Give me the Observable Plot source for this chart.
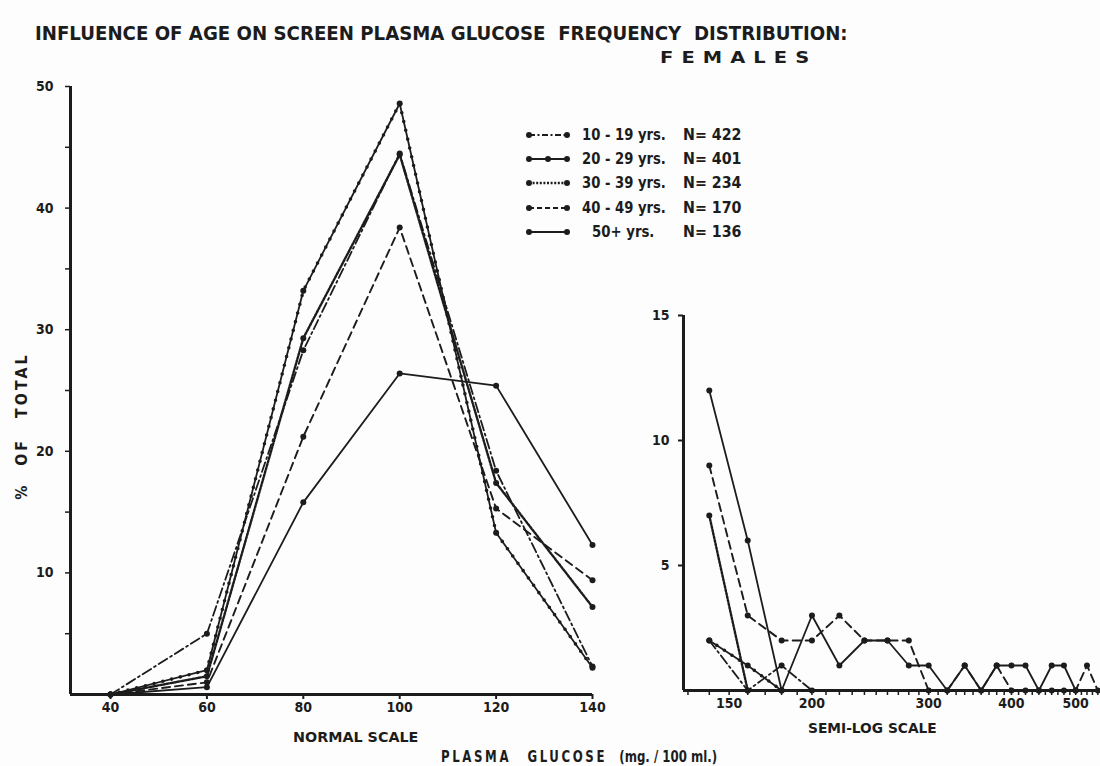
<!DOCTYPE html>
<html><head><meta charset="utf-8">
<script src="https://cdn.jsdelivr.net/npm/d3@7"></script>
<script src="https://cdn.jsdelivr.net/npm/@observablehq/plot@0.6"></script>
<style>
html,body{margin:0;padding:0;background:#fdfdfd;}
#wrap{position:relative;width:1100px;height:766px;overflow:hidden;background:#fdfdfd;}
.t{position:absolute;white-space:nowrap;font-family:"DejaVu Sans Condensed","Liberation Sans Narrow","DejaVu Sans",sans-serif;font-weight:bold;color:#1c1c1c;line-height:1;transform-origin:0 50%;}
#wrap svg.plotsvg{position:absolute;top:0;}
</style></head><body><div id="wrap"></div>
<script>
// ---------- data ----------
const ageGroups = ["10 - 19 yrs.", "20 - 29 yrs.", "30 - 39 yrs.", "40 - 49 yrs.", "50+ yrs."];
const sampleSizes = ["N= 422", "N= 401", "N= 234", "N= 170", "N= 136"];

// normal scale panel (plasma glucose mg/100 ml, % of total)
const normalX = [40, 60, 80, 100, 120, 140];
const normal_10_19 = [0, 5.0, 28.3, 44.5, 18.4, 2.3];
const normal_20_29 = [0, 2.0, 33.2, 48.6, 13.3, 2.2];
const normal_30_39 = [0, 1.5, 29.3, 44.4, 17.4, 7.2];
const normal_40_49 = [0, 1.0, 21.2, 38.4, 15.3, 9.4];
const normal_50_up = [0, 0.6, 15.8, 26.4, 25.4, 12.3];

// semi-log panel
const logX = [140,160,180,200,220,240,260,280,300,320,340,360,380,400,420,440,460,480,500,520,540];
const log_10_19 = [2, 0, 1, 0];
const log_20_29 = [2, 1, 0];
const log_30_39 = [7, 0];
const log_40_49 = [9,3,2,2,3,2,2,2,0,0,1,0,1,0,0,0,0,0,0,1,0];
const log_50_up = [12,6,0,3,1,2,2,1,1,0,1,0,1,1,1,0,1,1,0];

// ticks
const normalXTicks = [40, 60, 80, 100, 120, 140];
const normalYTicks = [10, 20, 30, 40, 50];
const normalYMinor = [5, 10, 15, 20, 25, 30, 35, 40, 45, 50];
const logXTicks = [150, 200, 300, 400, 500];
const logXMinor = [130,140,150,160,170,180,190,200,210,220,230,240,250,260,270,280,290,300,310,320,330,340,350,360,370,380,390,400,410,420,430,440,450,460,470,480,490,500,510,520,530,540];
const logYTicks = [5, 10, 15];

// ---------- helpers ----------
const FONT = '"DejaVu Sans Condensed","Liberation Sans Narrow","DejaVu Sans",sans-serif';
const ink = "#1c1c1c";
const normalSeries = [normal_10_19, normal_20_29, normal_30_39, normal_40_49, normal_50_up];
const logSeries = [log_10_19, log_20_29, log_30_39, log_40_49, log_50_up];
const normalRows = normalSeries.flatMap((s, i) => s.map((v, j) => ({group: ageGroups[i], x: normalX[j], y: v})));
const logRows = logSeries.flatMap((s, i) => s.map((v, j) => ({group: ageGroups[i], x: logX[j], y: v})));

const lineStyles = [
  {dash: "10,3.5,2,3.5", dots: false, w: 1.8},
  {dash: null, dots: true, w: 1.8},
  {dash: "2,1.6", dots: false, w: 2.4},
  {dash: "8,5", dots: false, w: 1.9},
  {dash: null, dots: false, w: 1.8}
];

function seriesMarks(rows) {
  const marks = [];
  ageGroups.forEach((g, i) => {
    const d = rows.filter(r => r.group === g);
    const st = lineStyles[i];
    const o = {x: "x", y: "y", stroke: ink, strokeWidth: st.w};
    if (st.dash) o.strokeDasharray = st.dash;
    marks.push(Plot.line(d, o));
    if (st.dots) marks.push(Plot.line(d, {x: "x", y: "y", stroke: ink, strokeWidth: 3.6, strokeLinecap: "round", strokeDasharray: "0,9"}));
    marks.push(Plot.dot(d, {x: "x", y: "y", r: 3, fill: ink}));
  });
  return marks;
}

const plotStyle = {background: "transparent", fontFamily: FONT, fontWeight: "bold", fontSize: "14px", color: ink, overflow: "visible"};
const wrap = document.getElementById("wrap");

// ---------- left: normal scale ----------
const xMinN = 31.7, xMaxN = 140;
const left = Plot.plot({
  width: 640, height: 766,
  marginLeft: 70, marginRight: 48, marginTop: 86, marginBottom: 72,
  x: {domain: [xMinN, xMaxN], label: null},
  y: {domain: [0, 50], label: null},
  style: plotStyle,
  marks: [
    Plot.axisX({ticks: normalXTicks, tickSize: 5, tickPadding: 3, tickFormat: d => String(d), label: null, strokeWidth: 2}),
    Plot.axisY({ticks: normalYMinor, tickSize: 5, tickFormat: () => "", label: null, strokeWidth: 1.5}),
    Plot.axisY({ticks: normalYTicks, tickSize: 0, tickPadding: 17, tickFormat: d => String(d), label: null}),
    Plot.ruleY([0], {stroke: ink, strokeWidth: 3}),
    Plot.ruleX([xMinN], {stroke: ink, strokeWidth: 3}),
    ...seriesMarks(normalRows)
  ]
});
left.classList.add("plotsvg");
left.style.left = "0px";
wrap.appendChild(left);

// ---------- right: semi-log scale ----------
const xMinL = 128, xMaxL = 545;
const right = Plot.plot({
  width: 500, height: 766,
  marginLeft: 83, marginRight: 0, marginTop: 315, marginBottom: 76,
  x: {type: "log", domain: [xMinL, xMaxL], label: null},
  y: {domain: [0, 15], label: null},
  style: plotStyle,
  marks: [
    Plot.axisX({ticks: logXMinor, tickSize: 5, tickFormat: () => "", label: null, strokeWidth: 1.5}),
    Plot.axisX({ticks: logXTicks, tickSize: 0, tickPadding: 8, tickFormat: d => String(d), label: null}),
    Plot.axisY({ticks: logYTicks, tickSize: 5, tickPadding: 9, tickFormat: d => String(d), label: null, strokeWidth: 2}),
    Plot.ruleY([0], {stroke: ink, strokeWidth: 3}),
    Plot.ruleX([xMinL], {stroke: ink, strokeWidth: 3}),
    ...seriesMarks(logRows)
  ]
});
right.classList.add("plotsvg");
right.style.left = "600px";
wrap.appendChild(right);

// ---------- text ----------
function place(html, x, y, targetW, size, extra) {
  const el = document.createElement("div");
  el.className = "t";
  el.style.fontSize = size + "px";
  el.innerHTML = html;
  if (extra) Object.assign(el.style, extra);
  wrap.appendChild(el);
  const w = el.offsetWidth, h = el.offsetHeight;
  el.style.left = x + "px";
  el.style.top = (y - h / 2) + "px";
  if (targetW) el.style.transform = `scaleX(${targetW / w})`;
  return el;
}
place("INFLUENCE OF AGE ON SCREEN PLASMA GLUCOSE &nbsp;FREQUENCY &nbsp;DISTRIBUTION:", 35, 33, 813, 19);
place("FEMALES", 660, 58, 158, 16, {letterSpacing: "6px"});
place("NORMAL SCALE", 293, 737, 125, 14);
place("SEMI-LOG SCALE", 808, 728, 129, 14);
place('<span style="letter-spacing:3px">PLASMA</span>&nbsp;&nbsp;&nbsp; <span style="letter-spacing:3px">GLUCOSE</span>&nbsp;&nbsp; (mg. / 100 ml.)', 441, 757, 276, 15);

// rotated y label
(function() {
  const el = document.createElement("div");
  el.className = "t";
  el.style.fontSize = "15px";
  el.innerHTML = '%&nbsp;&nbsp;&nbsp; <span style="letter-spacing:3px">OF</span>&nbsp;&nbsp;&nbsp; <span style="letter-spacing:3px">TOTAL</span>';
  wrap.appendChild(el);
  const w = el.offsetWidth;
  el.style.left = "22px";
  el.style.top = "426px";
  el.style.transformOrigin = "50% 50%";
  el.style.transform = `translate(-50%,-50%) rotate(-90deg) scaleX(${148 / w})`;
})();

// ---------- legend ----------
const legendY = [135, 159, 183, 208, 232];
ageGroups.forEach((g, i) => {
  const st = lineStyles[i];
  const svg = d3.create("svg").attr("width", 46).attr("height", 12)
    .style("position", "absolute").style("left", "525px").style("top", (legendY[i] - 6) + "px");
  svg.append("line").attr("x1", 4).attr("x2", 42).attr("y1", 6).attr("y2", 6)
    .attr("stroke", ink).attr("stroke-width", st.w).attr("stroke-dasharray", st.dash ? (i === 0 ? "6,2.5,2,2.5" : i === 3 ? "5,3" : st.dash) : null);
  const cx = st.dots ? [4, 23, 42] : [4, 42];
  cx.forEach(c => svg.append("circle").attr("cx", c).attr("cy", 6).attr("r", 3).attr("fill", ink));
  wrap.appendChild(svg.node());
  place(g, g === "50+ yrs." ? 592 : 582, legendY[i], g === "50+ yrs." ? 62 : 84, 15);
  place(sampleSizes[i], 683, legendY[i], 58, 15);
});
</script></body></html>
